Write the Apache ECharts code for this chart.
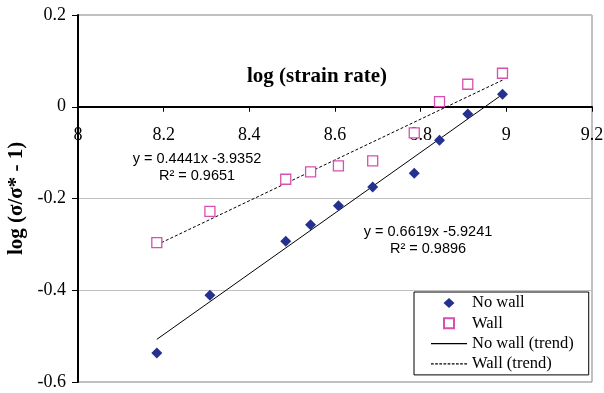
<!DOCTYPE html>
<html>
<head>
<meta charset="utf-8">
<script src="https://cdn.jsdelivr.net/npm/echarts@6/dist/echarts.min.js"></script>
<style>
  html, body { margin: 0; padding: 0; background: #fff; }
  #chart { width: 604px; height: 393px; }
</style>
</head>
<body>
<div id="chart"></div>
<script>
// values
const strainRate = [8.184, 8.308, 8.485, 8.543, 8.608, 8.688, 8.785, 8.844, 8.910, 8.991]
const noWall = [-0.537, -0.411, -0.293, -0.257, -0.216, -0.175, -0.145, -0.073, -0.016, 0.027]
const wall = [-0.296, -0.228, -0.158, -0.142, -0.129, -0.118, -0.057, 0.011, 0.049, 0.073]

// trend line end points (x, y)
const noWallTrend = [[8.184, -0.507], [8.991, 0.027]]
const wallTrend = [[8.184, -0.301], [8.991, 0.058]]

const noWallEq = ['y = 0.6619x -5.9241', 'R² = 0.9896']
const wallEq = ['y = 0.4441x -3.9352', 'R² = 0.9651']

const serif = '"Liberation Serif", "Times New Roman", serif'
const sans = '"Liberation Sans", Arial, sans-serif'

// grid box in px
const gridTop = 15
const gridBottom = 11
const chartH = 393
const yMin = -0.6
const yMax = 0.2

const chartEl = document.getElementById('chart')
const chart = echarts.init(chartEl)

const toPairs = (xs, ys) => xs.map((x, i) => [x, ys[i]])

// legend icons (paths so they keep their aspect inside the 36px slot)
const diamondIcon = 'path://M5.5,0L11,5L5.5,10L0,5z'
const squareIcon = 'path://M0,0h10v10h-10z'
const solidIcon = 'path://M0,0h36v1.2h-36z'
let dashPath = ''
for (let i = 0; i < 9; i++) dashPath += 'M' + (i * 4) + ',0h2.6v1.2h-2.6z'
const dashIcon = 'path://' + dashPath

const eqText = (lines, x, y) => ({
  type: 'text',
  x: x,
  y: y,
  style: {
    text: lines.join('\n'),
    font: '14.5px ' + sans,
    fill: '#000',
    align: 'center',
    lineHeight: 17
  }
})

// put the x axis line at y = 0
const plotH = chartH - gridTop - gridBottom
const zeroOffset = -plotH * (0 - yMin) / (yMax - yMin)

chart.setOption({
  animation: false,
  grid: {
    left: 78,
    right: 12,
    top: gridTop,
    bottom: gridBottom,
    outerBoundsMode: 'none',
    containLabel: false,
    show: true,
    borderColor: '#808080',
    borderWidth: 1
  },
  graphic: [
    {
      type: 'text',
      x: 317,
      y: 77,
      style: {
        text: 'log (strain rate)',
        font: 'bold 21px ' + serif,
        fill: '#000',
        align: 'center',
        verticalAlign: 'middle'
      }
    },
    eqText(wallEq, 197, 150.5),
    eqText(noWallEq, 428, 223)
  ],
  legend: {
    orient: 'vertical',
    left: 414,
    top: 292,
    padding: [1, 15, 1, 17],
    itemWidth: 36,
    itemHeight: 10,
    itemGap: 0.3,
    symbolKeepAspect: true,
    backgroundColor: '#fff',
    borderColor: '#000',
    borderWidth: 1,
    textStyle: {
      fontFamily: serif,
      fontSize: 16.5,
      lineHeight: 20,
      color: '#000'
    },
    data: [
      {name: 'No wall', icon: diamondIcon},
      {name: 'Wall', icon: squareIcon},
      {name: 'No wall (trend)', icon: solidIcon},
      {name: 'Wall (trend)', icon: dashIcon}
    ]
  },
  xAxis: {
    type: 'value',
    min: 8,
    max: 9.2,
    interval: 0.2,
    position: 'bottom',
    offset: zeroOffset,
    axisLine: {
      onZero: false,
      lineStyle: {color: '#000', width: 2}
    },
    axisTick: {
      show: true,
      length: 5,
      lineStyle: {color: '#000'}
    },
    axisLabel: {
      margin: 20,
      fontFamily: serif,
      fontSize: 18,
      color: '#000'
    },
    splitLine: {show: false}
  },
  yAxis: {
    type: 'value',
    min: yMin,
    max: yMax,
    interval: 0.2,
    name: 'log (σ/σ* - 1)',
    nameLocation: 'middle',
    nameGap: 48,
    nameTextStyle: {
      fontFamily: serif,
      fontSize: 21,
      fontWeight: 'bold',
      color: '#000'
    },
    axisLine: {
      show: true,
      onZero: false,
      lineStyle: {color: '#000', width: 2}
    },
    axisTick: {
      show: true,
      length: 6,
      lineStyle: {color: '#000'}
    },
    axisLabel: {
      margin: 12,
      fontFamily: serif,
      fontSize: 18,
      color: '#000'
    },
    splitLine: {
      lineStyle: {color: '#c0c0c0', width: 1}
    }
  },
  series: [
    {
      name: 'No wall',
      type: 'scatter',
      symbol: 'diamond',
      symbolSize: 11,
      itemStyle: {color: '#24318f', opacity: 1},
      data: toPairs(strainRate, noWall),
      z: 5
    },
    {
      name: 'Wall',
      type: 'scatter',
      symbol: 'rect',
      symbolSize: 10,
      itemStyle: {color: '#fff', borderColor: '#d94fb0', borderWidth: 1.3, opacity: 1},
      data: toPairs(strainRate, wall),
      z: 5
    },
    {
      name: 'No wall (trend)',
      type: 'line',
      symbol: 'none',
      color: '#000',
      lineStyle: {color: '#000', width: 1},
      data: noWallTrend,
      z: 3
    },
    {
      name: 'Wall (trend)',
      type: 'line',
      symbol: 'none',
      color: '#000',
      lineStyle: {color: '#000', width: 1, type: [3, 2]},
      data: wallTrend,
      z: 3
    }
  ]
})

window.addEventListener('resize', () => chart.resize())
</script>
</body>
</html>
